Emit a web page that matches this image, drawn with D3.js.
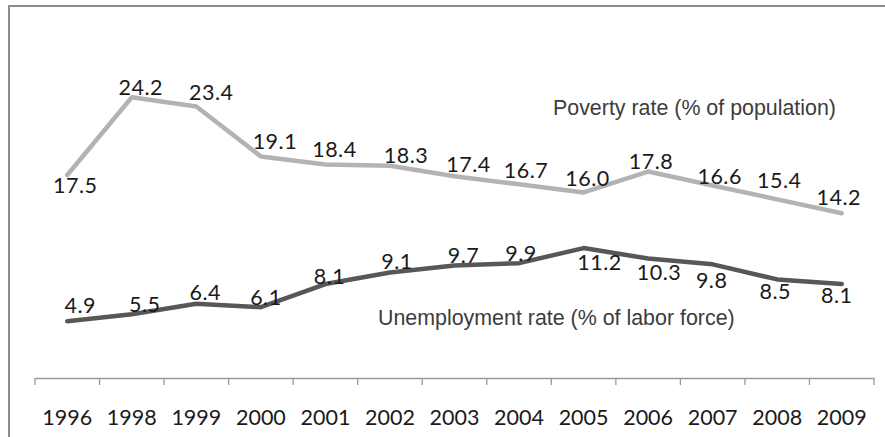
<!DOCTYPE html>
<html>
<head>
<meta charset="utf-8">
<script src="https://cdn.jsdelivr.net/npm/d3@7"></script>
<style>
  html, body { margin: 0; padding: 0; background: #fff; }
  svg { display: block; }
</style>
</head>
<body>
<svg id="chart" width="885" height="437"></svg>
<script>
// Years on the category axis
const years = ["1996", "1998", "1999", "2000", "2001", "2002", "2003", "2004", "2005", "2006", "2007", "2008", "2009"];

// Poverty rate (% of population)
const poverty = [17.5, 24.2, 23.4, 19.1, 18.4, 18.3, 17.4, 16.7, 16.0, 17.8, 16.6, 15.4, 14.2];

// Unemployment rate (% of labor force)
const unemployment = [4.9, 5.5, 6.4, 6.1, 8.1, 9.1, 9.7, 9.9, 11.2, 10.3, 9.8, 8.5, 8.1];

// Hand-placed nudges of the value labels relative to their points (px)
const povertyLabelDx = [8, 9, 15, 14, 9, 16, 14, 7, 4, 3, 7, 2, -3];
const povertyLabelDy = [10, -10, -15, -15, -16, -11, -12, -14, -14, -11, -9, -19, -16];
const unempLabelDx = [13, 13, 9, 5, 4, 7, 9, 2, 16, 11, -1, -2, -5];
const unempLabelDy = [-16, -10, -12, -10, -8, -11, -10, -10, 14, 13, 16, 12, 11];

const svg = d3.select("#chart");

// Chart frame (only top and left edges fall inside the view)
svg.append("rect")
  .attr("x", 9).attr("y", 6)
  .attr("width", 1000).attr("height", 600)
  .attr("fill", "none")
  .attr("stroke", "#8c8c8c")
  .attr("stroke-width", 2);

const x = d3.scaleBand().domain(years).range([35, 874]).padding(0);
const y = d3.scaleLinear().domain([0, 30]).range([378, 30]);

// Category axis
const xAxis = d3.axisBottom(x).tickSize(0).tickPadding(0).tickFormat("");
const axisG = svg.append("g").attr("transform", "translate(0,378)").call(xAxis);
axisG.select(".domain").attr("stroke", "#9a9a9a").attr("stroke-width", 1.3);

// Tick marks at band boundaries
const bounds = years.map(d => x(d)).concat([x(years[years.length - 1]) + x.bandwidth()]);
axisG.selectAll("line.bnd")
  .data(bounds)
  .join("line")
  .attr("class", "bnd")
  .attr("x1", d => d).attr("x2", d => d)
  .attr("y1", 0).attr("y2", 7)
  .attr("stroke", "#9a9a9a")
  .attr("stroke-width", 1.3);

axisG.selectAll("text.yr")
  .data(years)
  .join("text")
  .attr("class", "yr")
  .attr("x", d => x(d) + x.bandwidth() / 2)
  .attr("y", 47)
  .attr("text-anchor", "middle")
  .attr("font-family", "Lato, 'Open Sans', sans-serif")
  .attr("font-size", 21.5)
  .attr("fill", "#1a1a1a")
  .text(d => d);

const cx = (d, i) => x(years[i]) + x.bandwidth() / 2;
const line = d3.line().x(cx).y(d => y(d));

// Poverty line
svg.append("path")
  .datum(poverty)
  .attr("d", line)
  .attr("fill", "none")
  .attr("stroke", "#b3b3b3")
  .attr("stroke-width", 4.5)
  .attr("stroke-linejoin", "round")
  .attr("stroke-linecap", "round");

// Unemployment line
svg.append("path")
  .datum(unemployment)
  .attr("d", line)
  .attr("fill", "none")
  .attr("stroke", "#575757")
  .attr("stroke-width", 4.5)
  .attr("stroke-linejoin", "round")
  .attr("stroke-linecap", "round");

// Value labels
function addLabels(values, dx, dy, cls) {
  svg.selectAll("text." + cls)
    .data(values)
    .join("text")
    .attr("class", cls)
    .attr("x", (d, i) => cx(d, i) + dx[i])
    .attr("y", (d, i) => y(d) + dy[i])
    .attr("text-anchor", "middle")
    .attr("dominant-baseline", "central")
    .attr("font-family", "Lato, 'Open Sans', sans-serif")
    .attr("font-size", 21.5)
    .attr("letter-spacing", 0.5)
    .attr("fill", "#1a1a1a")
    .text(d => d.toFixed(1));
}
addLabels(poverty, povertyLabelDx, povertyLabelDy, "plab");
addLabels(unemployment, unempLabelDx, unempLabelDy, "ulab");

// Series captions
svg.append("text")
  .attr("x", 553).attr("y", 115)
  .attr("font-family", "'Liberation Sans', Arial, sans-serif")
  .attr("font-size", 21.4)
  .attr("fill", "#3c3c3c")
  .text("Poverty rate (% of population)");

svg.append("text")
  .attr("x", 378).attr("y", 325)
  .attr("font-family", "'Liberation Sans', Arial, sans-serif")
  .attr("font-size", 21.4)
  .attr("fill", "#3c3c3c")
  .text("Unemployment rate (% of labor force)");
</script>
</body>
</html>
